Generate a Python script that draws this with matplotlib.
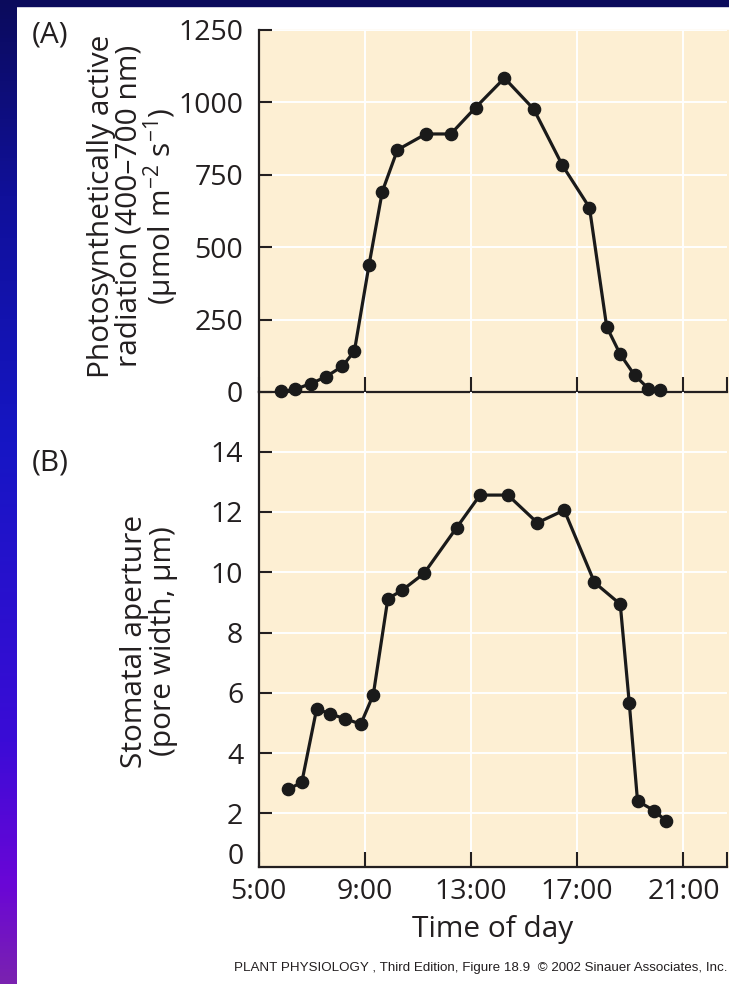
import numpy as np
import matplotlib.pyplot as plt
from matplotlib.colors import LinearSegmentedColormap
from matplotlib.patches import Rectangle

plt.rcParams['font.family'] = ['Open Sans', 'DejaVu Sans']
plt.rcParams['mathtext.fontset'] = 'custom'
plt.rcParams['mathtext.rm'] = 'Open Sans'
plt.rcParams['mathtext.default'] = 'regular'

# (A) photosynthetically active radiation
par_time = [5.85, 6.37, 6.97, 7.53, 8.16, 8.61, 9.16, 9.66, 10.23, 11.30, 12.24,
            13.17, 14.26, 15.36, 16.44, 17.46, 18.11, 18.62, 19.16, 19.68, 20.12]
par = [2, 9, 29, 52, 89, 141, 438, 692, 836, 891, 891,
       982, 1084, 977, 783, 637, 225, 130, 58, 12, 6]

# (B) stomatal aperture
ap_time = [6.12, 6.63, 7.19, 7.69, 8.26, 8.85, 9.32, 9.87, 10.42, 11.23, 12.46,
           13.34, 14.39, 15.50, 16.51, 17.65, 18.62, 18.96, 19.27, 19.90, 20.34]
aperture = [2.80, 3.03, 5.47, 5.30, 5.14, 4.96, 5.93, 9.12, 9.41, 9.96, 11.48,
            12.56, 12.56, 11.64, 12.06, 9.66, 8.94, 5.65, 2.41, 2.09, 1.75]

hour_ticks = [5, 9, 13, 17, 21]
hour_labels = ['5:00', '9:00', '13:00', '17:00', '21:00']
par_ticks = [0, 250, 500, 750, 1000, 1250]
ap_ticks = [2, 4, 6, 8, 10, 12, 14]

W, H = 729, 984
cream = '#fdefd3'
ink = '#231f20'
navy = '#0b0b5c'
tick_fs = 20.5
text_fs = 21.5

fig = plt.figure(figsize=(W / 100, H / 100), dpi=100)
fig.patch.set_facecolor('white')

def fx(px):
    return px / W

def fy(py):
    return 1 - py / H

# slide background: dark band on top, gradient band on the left
fig.add_artist(Rectangle((0, fy(6)), 1, 6 / H, transform=fig.transFigure,
                         color=navy, zorder=-2))
band = fig.add_axes([0, 0, fx(17), 1])
grad = LinearSegmentedColormap.from_list(
    'band', [(0, navy), (0.2, '#10109a'), (0.45, '#1616c4'),
             (0.75, '#3a0cd6'), (0.9, '#6a06d6'), (1, '#7a22b0')])
band.imshow(np.linspace(0, 1, 256)[:, None], aspect='auto', cmap=grad,
            extent=[0, 1, 1, 0])
band.axis('off')

left, right = 258.5, 727.3
fig.add_artist(Rectangle((fx(left), fy(867.3)), fx(729) - fx(left),
                         fy(30) - fy(867.3), transform=fig.transFigure,
                         color=cream, zorder=-1))

ax1 = fig.add_axes([fx(left), fy(392), fx(right) - fx(left), fy(30) - fy(392)])
ax2 = fig.add_axes([fx(left), fy(867.3), fx(right) - fx(left), fy(392) - fy(867.3)])

xmax = 22.65
for ax in (ax1, ax2):
    ax.set_facecolor('none')
    ax.set_xlim(5, xmax)
    ax.spines['right'].set_visible(False)
    ax.spines['top'].set_visible(False)
    for s in ('left', 'bottom'):
        ax.spines[s].set_linewidth(1.6)
        ax.spines[s].set_color(ink)
    ax.set_xticks(hour_ticks)
    ax.set_xticks([xmax], minor=True)
    ax.grid(True, which='major', color='white', lw=1.4)
    ax.set_axisbelow(True)
    ax.tick_params(which='both', direction='in', width=1.5, color=ink,
                   labelsize=tick_fs, labelcolor=ink, pad=11)
    ax.tick_params(axis='y', length=9.5)
    ax.tick_params(axis='x', which='both', length=10.5)

ax1.plot(par_time, par, '-o', color='#1a1a1a', lw=2.3, ms=8.8, clip_on=False, zorder=5)
ax1.set_ylim(0, 1250)
ax1.set_yticks(par_ticks)
ax1.tick_params(axis='x', labelbottom=False)

ax2.plot(ap_time, aperture, '-o', color='#1a1a1a', lw=2.3, ms=8.8, clip_on=False, zorder=5)
ax2.set_ylim(0.21, 15.98)
ax2.set_yticks(ap_ticks)
ax2.set_xticklabels(hour_labels)
ax2.tick_params(axis='x', pad=8)
ax2.annotate('0', xy=(0, 0.21), xycoords=ax2.get_yaxis_transform(),
             xytext=(-15, 10), textcoords='offset pixels',
             ha='right', va='center', fontsize=tick_fs, color=ink)

fig.text(fx(493), fy(930), 'Time of day', ha='center', va='center',
         fontsize=text_fs, color=ink)

fig.text(fx(134), fy(206),
         'Photosynthetically active\nradiation (400\u2013700 nm)\n(\u00b5mol m$^{\u22122}$ s$^{\u22121}$)',
         rotation=90, ha='center', va='center', multialignment='center',
         fontsize=text_fs, color=ink, linespacing=0.95)
fig.text(fx(149), fy(641), 'Stomatal aperture\n(pore width, \u00b5m)',
         rotation=90, ha='center', va='center', multialignment='center',
         fontsize=text_fs, color=ink, linespacing=1.0)

fig.text(fx(32), fy(35), '(A)', ha='left', va='center', fontsize=text_fs, color=ink)
fig.text(fx(32), fy(463), '(B)', ha='left', va='center', fontsize=text_fs, color=ink)

fig.text(fx(727), fy(968),
         'PLANT PHYSIOLOGY , Third Edition, Figure 18.9  \u00a9 2002 Sinauer Associates, Inc.',
         ha='right', va='center', fontsize=9.6, family='Liberation Sans', color=ink)

fig.savefig('out.png', dpi=100, facecolor=fig.get_facecolor())
